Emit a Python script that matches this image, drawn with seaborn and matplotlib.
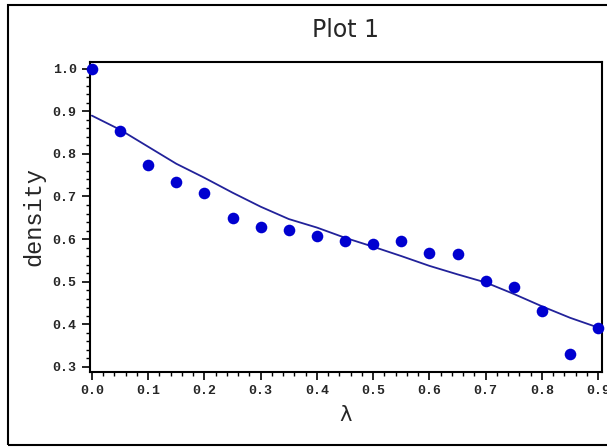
import matplotlib
matplotlib.use("Agg")
import matplotlib.pyplot as plt
import seaborn as sns
import pandas as pd
from matplotlib.patches import Rectangle
from matplotlib.ticker import MultipleLocator

# ── Data ─────────────────────────────────────────────────────
lam = [0.00, 0.05, 0.10, 0.15, 0.20, 0.25, 0.30, 0.35, 0.40, 0.45,
       0.50, 0.55, 0.60, 0.65, 0.70, 0.75, 0.80, 0.85, 0.90]
density = [1.000, 0.855, 0.775, 0.735, 0.709, 0.650, 0.629, 0.622, 0.608, 0.596,
           0.589, 0.596, 0.568, 0.566, 0.502, 0.488, 0.430, 0.331, 0.392]
fitted = [0.890, 0.857, 0.817, 0.777, 0.744, 0.709, 0.676, 0.647, 0.627, 0.603,
          0.582, 0.560, 0.537, 0.517, 0.498, 0.471, 0.442, 0.415, 0.392]

x_ticks = [0.0, 0.1, 0.2, 0.3, 0.4, 0.5, 0.6, 0.7, 0.8, 0.9]
y_ticks = [0.3, 0.4, 0.5, 0.6, 0.7, 0.8, 0.9, 1.0]

df = pd.DataFrame({"lam": lam, "density": density, "fitted": fitted})

sns.set_style("ticks")

fig = plt.figure(figsize=(6.07, 4.48), dpi=100)
ax = fig.add_axes([0.148, 0.170, 0.844, 0.692])

sns.lineplot(data=df, x="lam", y="fitted", color="#22229a", linewidth=1.3, ax=ax)
sns.scatterplot(data=df, x="lam", y="density", color="#0000d0", marker="o",
                s=70, edgecolor="#0000d0", linewidth=0, ax=ax, zorder=3, clip_on=False)

ax.set_xlim(-0.0036, 0.907)
ax.set_ylim(0.288, 1.0164)
ax.set_xticks(x_ticks)
ax.set_yticks(y_ticks)
ax.set_xticklabels([f"{v:.1f}" for v in x_ticks], family="Liberation Mono",
                   fontweight="bold", fontsize=9.5)
ax.set_yticklabels([f"{v:.1f}" for v in y_ticks], family="Liberation Mono",
                   fontweight="bold", fontsize=9.5)
ax.xaxis.set_minor_locator(MultipleLocator(0.02))
ax.yaxis.set_minor_locator(MultipleLocator(0.02))
ax.tick_params(which="major", direction="out", length=6, width=1.2, color="black")
ax.tick_params(which="minor", direction="out", length=3, width=1.0, color="black")
for sp in ax.spines.values():
    sp.set_visible(True)
    sp.set_linewidth(1.5)
    sp.set_color("black")

ax.set_title("Plot 1", fontsize=17, pad=18)
ax.set_xlabel("λ", fontsize=15, labelpad=6)
ax.set_ylabel("density", fontsize=17, family="Liberation Mono", labelpad=5)

# outer frame around the whole picture
fig.patches.append(Rectangle((8 / 607, 3 / 448), 1.1, 1 - 8 / 448,
                             transform=fig.transFigure, fill=False,
                             edgecolor="black", linewidth=1.5))

plt.savefig("out.png", dpi=100)
